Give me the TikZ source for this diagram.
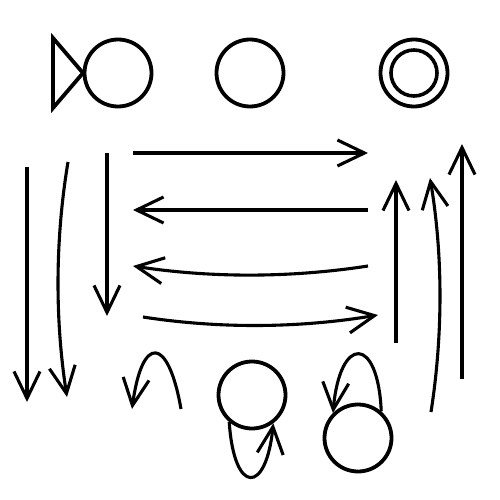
\documentclass[tikz,border=0pt]{standalone}
\usetikzlibrary{arrows.meta}
\begin{document}
\begin{tikzpicture}[x=1pt,y=-1pt,
  state/.style={draw,circle,line width=3.8pt,minimum size=67pt,inner sep=0pt},
  conn/.style={line width=3.1pt,-{Straight Barb[length=27pt,width=26pt]}}]
\useasboundingbox (0,0) rectangle (500,500);
% states
\node[state] (init) at (118,73) {};
\draw[line width=3.8pt,line join=miter] (53,38) -- (83,73) -- (53,108) -- cycle;
\node[state] (plain) at (250,73) {};
\node[state] (acc) at (414,73) {};
\node[draw,circle,line width=3.6pt,minimum size=46pt,inner sep=0pt] (accin) at (414,73) {};
\node[state] (loopa) at (252,395) {};
\node[state] (loopb) at (358,438) {};
% horizontal arrows
\coordinate (h1a) at (133,153); \coordinate (h1b) at (368,153);
\coordinate (h2a) at (368,210); \coordinate (h2b) at (133,210);
\coordinate (h3a) at (368,266); \coordinate (h3b) at (133,266);
\coordinate (h4a) at (143,317); \coordinate (h4b) at (378,315);
\draw[conn] (h1a) -- (h1b);
\draw[conn] (h2a) -- (h2b);
\draw[conn] (h3a) .. controls (290,278) and (211,278) .. (h3b);
\draw[conn] (h4a) .. controls (221,329) and (300,328) .. (h4b);
% vertical down arrows
\coordinate (d1a) at (27,167); \coordinate (d1b) at (27,402);
\coordinate (d2a) at (68,162); \coordinate (d2b) at (67,397);
\coordinate (d3a) at (107,153); \coordinate (d3b) at (107,316);
\draw[conn] (d1a) -- (d1b);
\draw[conn] (d2a) .. controls (55,240) and (55,320) .. (d2b);
\draw[conn] (d3a) -- (d3b);
% vertical up arrows
\coordinate (u1a) at (396,343); \coordinate (u1b) at (396,180);
\coordinate (u2a) at (431,412); \coordinate (u2b) at (430,178);
\coordinate (u3a) at (462,379); \coordinate (u3b) at (462,144);
\draw[conn] (u1a) -- (u1b);
\draw[conn] (u2a) .. controls (443,335) and (443,255) .. (u2b);
\draw[conn] (u3a) -- (u3b);
% free loop
\coordinate (fa) at (181,409); \coordinate (fb) at (132,409);
\draw[conn] (fa) .. controls (168,335) and (142,335) .. (fb);
% loops on states
\draw[conn] (loopa.230) .. controls (234,495) and (266,495) .. (loopa.307);
\draw[conn] (loopb.49) .. controls (378,335) and (340,335) .. (loopb.135);
\end{tikzpicture}
\end{document}
